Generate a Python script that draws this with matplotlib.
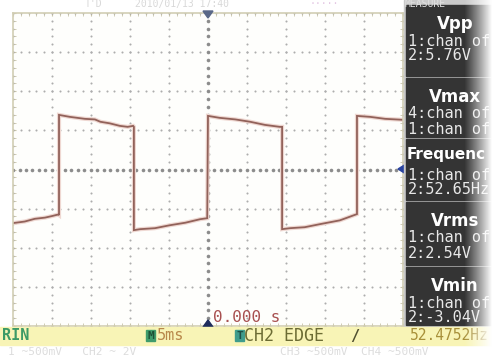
import numpy as np
import matplotlib
matplotlib.use('Agg')
import matplotlib.pyplot as plt
from matplotlib.patches import Rectangle, Polygon

# waveform (time in ms, CH2 in volts, 5ms/div, 2V/div)
t_ms = [-25.0, -23.5, -22.2, -20.9, -20.0, -19.2, -19.1,
        -19.1, -17.7, -15.8, -14.5, -13.8, -12.6, -11.3, -10.3, -9.6, -9.5,
        -9.5, -8.7, -6.8, -4.9, -2.9, -1.0, -0.1,
        0.0, 1.5, 3.5, 5.4, 7.3, 9.2, 9.5,
        9.5, 10.5, 12.4, 14.4, 16.9, 19.1,
        19.1, 20.8, 22.7, 25.0]
ch2_v = [-2.74, -2.66, -2.52, -2.46, -2.38, -2.30, -2.33,
         2.79, 2.69, 2.59, 2.56, 2.44, 2.36, 2.23, 2.18, 2.23, 2.18,
         -3.10, -3.05, -3.00, -2.85, -2.72, -2.54, -2.49,
         2.74, 2.64, 2.56, 2.44, 2.28, 2.18, 2.18,
         -3.05, -3.00, -2.95, -2.79, -2.60, -2.28,
         2.74, 2.69, 2.59, 2.54]

meas_titles = ['Vpp', 'Vmax', 'Frequenc', 'Vrms', 'Vmin']
meas_lines = [['1:chan of', '2:5.76V'],
              ['4:chan of', '1:chan of'],
              ['1:chan of', '2:52.65Hz'],
              ['1:chan of', '2:2.54V'],
              ['1:chan of', '2:-3.04V']]

W, H = 492, 358
fig = plt.figure(figsize=(W / 100, H / 100), dpi=100)
fig.patch.set_facecolor('white')

# main scope screen
ax = fig.add_axes([13 / W, 1 - 326 / H, 390 / W, 313 / H])
ax.set_facecolor('#fefefc')
ax.set_xlim(-25, 25)
ax.set_ylim(-8, 8)

# dotted graticule
for tx in np.arange(-25, 25.1, 5):
    if tx == 0:
        continue
    yy = np.arange(-8, 8.01, 0.4)
    ax.plot(np.full_like(yy, tx), yy, ls='none', marker='o', ms=1.5, color='#adadad', mec='none')
for vy in np.arange(-8, 8.01, 2):
    if vy == 0:
        continue
    xx = np.arange(-25, 25.01, 1)
    ax.plot(xx, np.full_like(xx, vy), ls='none', marker='o', ms=1.5, color='#adadad', mec='none')
xx = np.arange(-25, 25.01, 5 / 6)
ax.plot(xx, np.zeros_like(xx), ls='none', marker='o', ms=2.6, color='#8c8c8c', mec='none')
yy = np.arange(-8, 8.01, 0.4)
ax.plot(np.zeros_like(yy), yy, ls='none', marker='o', ms=2.6, color='#8c8c8c', mec='none')

# trace
ax.plot(t_ms, ch2_v, color='#efd8d2', lw=3.0, solid_joinstyle='miter')
ax.plot(t_ms, ch2_v, color='#92625a', lw=1.3, solid_joinstyle='miter')

ax.set_xticks(np.arange(-25, 25.1, 5))
ax.set_yticks(np.arange(-8, 8.1, 2))
ax.set_xticks(np.arange(-25, 25.1, 1), minor=True)
ax.set_yticks(np.arange(-8, 8.1, 0.4), minor=True)
ax.tick_params(which='both', direction='in', length=2, color='#c8c4a8',
               top=True, right=True, labelbottom=False, labelleft=False)
for s in ax.spines.values():
    s.set_color('#d2ceb4')
    s.set_linewidth(1.2)

# overlay in pixel coordinates for the scope's panels and text
ov = fig.add_axes([0, 0, 1, 1], zorder=5)
ov.set_xlim(0, W)
ov.set_ylim(H, 0)
ov.axis('off')
ov.patch.set_alpha(0)

mono = 'DejaVu Sans Mono'

# trigger markers
ov.add_patch(Polygon([[203, 11], [213, 11], [208, 18]], color='#5a6888'))
ov.add_patch(Polygon([[203, 327], [213, 327], [208, 320]], color='#1e2c5c'))
ov.add_patch(Polygon([[398, 169], [406, 164], [406, 174]], color='#2a44a0'))
ov.text(213, 318, '0.000 s', family=mono, fontsize=11.5, color='#a85050', va='center')

# measure side panel
ov.add_patch(Rectangle((404, 0), 88, 327, color='#c9c9c9'))
boxes = [(5, 76), (78, 137), (139, 200), (202, 265), (267, 325)]
for (y0, y1), title, lines in zip(boxes, meas_titles, meas_lines):
    ov.add_patch(Rectangle((406, y0), 86, y1 - y0, color='#343434'))
    if len(title) > 5:
        ov.text(407, y0 + 15, title, color='white', fontsize=11, weight='bold', va='center')
    else:
        ov.text(455, y0 + 19, title, color='white', fontsize=12, weight='bold',
                ha='center', va='center')
    ov.text(408, y0 + 36, lines[0], color='#e8e8e8', family=mono, fontsize=11, va='center')
    ov.text(408, y0 + 51, lines[1], color='#e8e8e8', family=mono, fontsize=11, va='center')

# right edge fades to white
ramp = np.zeros((2, 60, 4))
ramp[..., :3] = 1.0
ramp[..., 3] = np.linspace(0, 1.0, 60) ** 1.1
ov.imshow(ramp, extent=[464, 492, 358, 0], aspect='auto', zorder=10)

# bottom status bar
ov.add_patch(Rectangle((0, 327), W, 18, color='#f8f4b6', zorder=3))
ov.text(2, 336, 'RIN', family=mono, fontsize=11, weight='bold', color='#3c9a66', va='center', zorder=4)
ov.add_patch(Rectangle((146, 330), 9, 11, color='#3f9c6c', zorder=4))
ov.text(150.5, 336, 'M', family=mono, fontsize=8, weight='bold', color='#1d4f36', ha='center', va='center', zorder=5)
ov.text(157, 336, '5ms', family=mono, fontsize=11, color='#b8884a', va='center', zorder=4)
ov.add_patch(Rectangle((235, 330), 9, 11, color='#3f9c8c', zorder=4))
ov.text(239.5, 336, 'T', family=mono, fontsize=8, weight='bold', color='#1d4f46', ha='center', va='center', zorder=5)
ov.text(244, 336, 'CH2 EDGE', family=mono, fontsize=12, color='#6c6c34', va='center', zorder=4)
ov.text(350, 336, '/', family=mono, fontsize=11, weight='bold', color='#505030', va='center', zorder=4)
ov.text(410, 336, '52.4752Hz', family=mono, fontsize=10.5, color='#a8903a', va='center', zorder=4)

# faint text bleeding at top and bottom edges
ov.text(85, 4, "T'D", family=mono, fontsize=7, color='#d8d8d8', va='center')
ov.text(135, 4, '2010/01/13 17:40', family=mono, fontsize=7, color='#d8d8d8', va='center')
ov.text(310, 4, '·····', family=mono, fontsize=7, color='#e4c8e4', va='center')
ov.text(405, 4, 'MEASURE', family=mono, fontsize=7, color='#e0e0e0', va='center', zorder=11)
ov.text(8, 352, '1 ~500mV   CH2 ~ 2V', family=mono, fontsize=8, color='#dcdcdc', va='center')
ov.text(280, 352, 'CH3 ~500mV  CH4 ~500mV', family=mono, fontsize=8, color='#dcdcdc', va='center')

fig.savefig('out.png', dpi=100)
